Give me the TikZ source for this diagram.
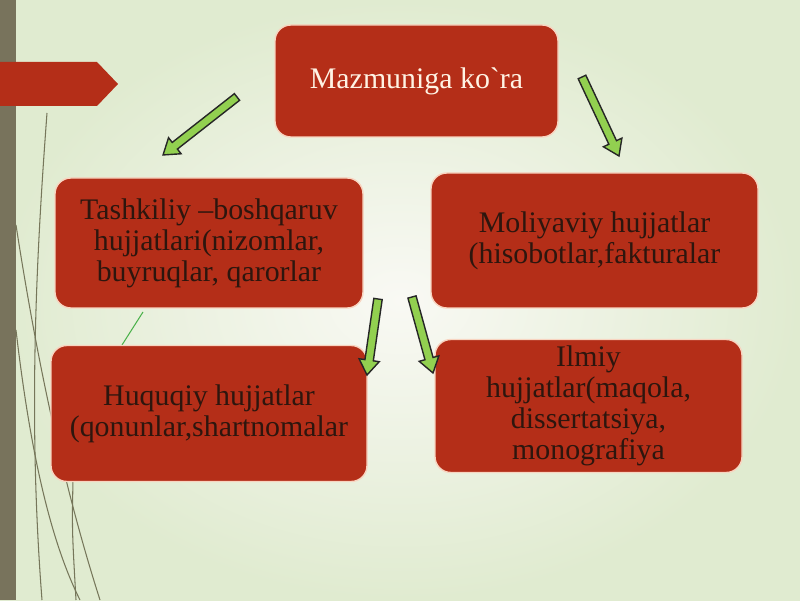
\documentclass[tikz,border=0pt]{standalone}
\usepackage{fontspec}
\setmainfont{Liberation Serif}
\usetikzlibrary{calc}
\definecolor{boxred}{RGB}{180,46,24}
\definecolor{boxedge}{RGB}{248,212,192}
\definecolor{arrowgreen}{RGB}{146,208,80}
\definecolor{bgin}{RGB}{249,249,244}
\definecolor{bgout}{RGB}{224,235,208}
\definecolor{barolive}{RGB}{120,115,92}
\definecolor{lineolive}{RGB}{118,118,90}
\definecolor{textdark}{RGB}{45,22,14}
\definecolor{textlight}{RGB}{255,243,228}
% block arrow from #1 to #2
\newcommand\greenarrow[2]{%
\draw[arrowbody] let \p1=($(#2)-(#1)$), \n1={atan2(\y1,\x1)}, \n2={veclen(\x1,\y1)} in
  [shift={(#1)}, rotate=\n1]
  (0pt,-2.4pt) -- ({\n2-8.5pt},-2.4pt) -- ({\n2-8.5pt},-5.8pt) -- (\n2,0pt)
  -- ({\n2-8.5pt},5.8pt) -- ({\n2-8.5pt},2.4pt) -- (0pt,2.4pt) -- cycle;}
\begin{document}
\begin{tikzpicture}[x=0.02cm,y=-0.02cm,
box/.style={draw=boxedge,line width=0.8pt,fill=boxred,rounded corners=9pt,
  align=center,text=textdark,inner sep=0pt,font=\fontsize{17}{17.6}\selectfont},
arrowbody/.style={draw=black!85,fill=arrowgreen,line width=0.8pt,line join=miter},
thinline/.style={lineolive,line width=0.6pt}
]
\shade[inner color=bgin,outer color=bgout] (0,0) rectangle (800,600);
\fill[barolive] (0,0) rectangle (16,600);
\fill[boxred] (0,62) -- (97,62) -- (118,84) -- (97,106) -- (0,106) -- cycle;
% thin lines on the left
\draw[thinline] (47,113) .. controls (36,260) and (28,420) .. (42,600);
\draw[thinline] (16,225) .. controls (40,380) and (68,500) .. (100,600);
\draw[thinline] (16,330) .. controls (30,450) and (50,540) .. (80,600);
\draw[thinline] (73,480) .. controls (72,530) .. (76,600);
\draw[thinline,green!40!gray] (143,312) -- (122,345);

\node[box,text=textlight,minimum width=283*0.02cm,minimum height=112*0.02cm] (top) at (416.5,81) {Mazmuniga ko\textasciigrave ra};
\node[box,minimum width=308*0.02cm,minimum height=130*0.02cm] (tash) at (209,243)
  {Tashkiliy –boshqaruv\\hujjatlari(nizomlar,\\buyruqlar, qarorlar};
\node[box,minimum width=327*0.02cm,minimum height=135*0.02cm] (moli) at (594.5,240.5)
  {Moliyaviy hujjatlar\\(hisobotlar,fakturalar};
\node[box,minimum width=316*0.02cm,minimum height=136*0.02cm] (huq) at (209,413.5)
  {Huquqiy hujjatlar\\(qonunlar,shartnomalar};
\node[box,minimum width=307*0.02cm,minimum height=133*0.02cm] (ilm) at (588.5,406)
  {Ilmiy\\hujjatlar(maqola,\\dissertatsiya,\\monografiya};

\coordinate (a1) at (237,97);  \coordinate (b1) at (163,155);
\coordinate (a2) at (582,77);  \coordinate (b2) at (619,156);
\coordinate (a3) at (378,299); \coordinate (b3) at (367,375);
\coordinate (a4) at (412,297); \coordinate (b4) at (433,373);
\greenarrow{a1}{b1}
\greenarrow{a2}{b2}
\greenarrow{a3}{b3}
\greenarrow{a4}{b4}
\end{tikzpicture}
\end{document}
